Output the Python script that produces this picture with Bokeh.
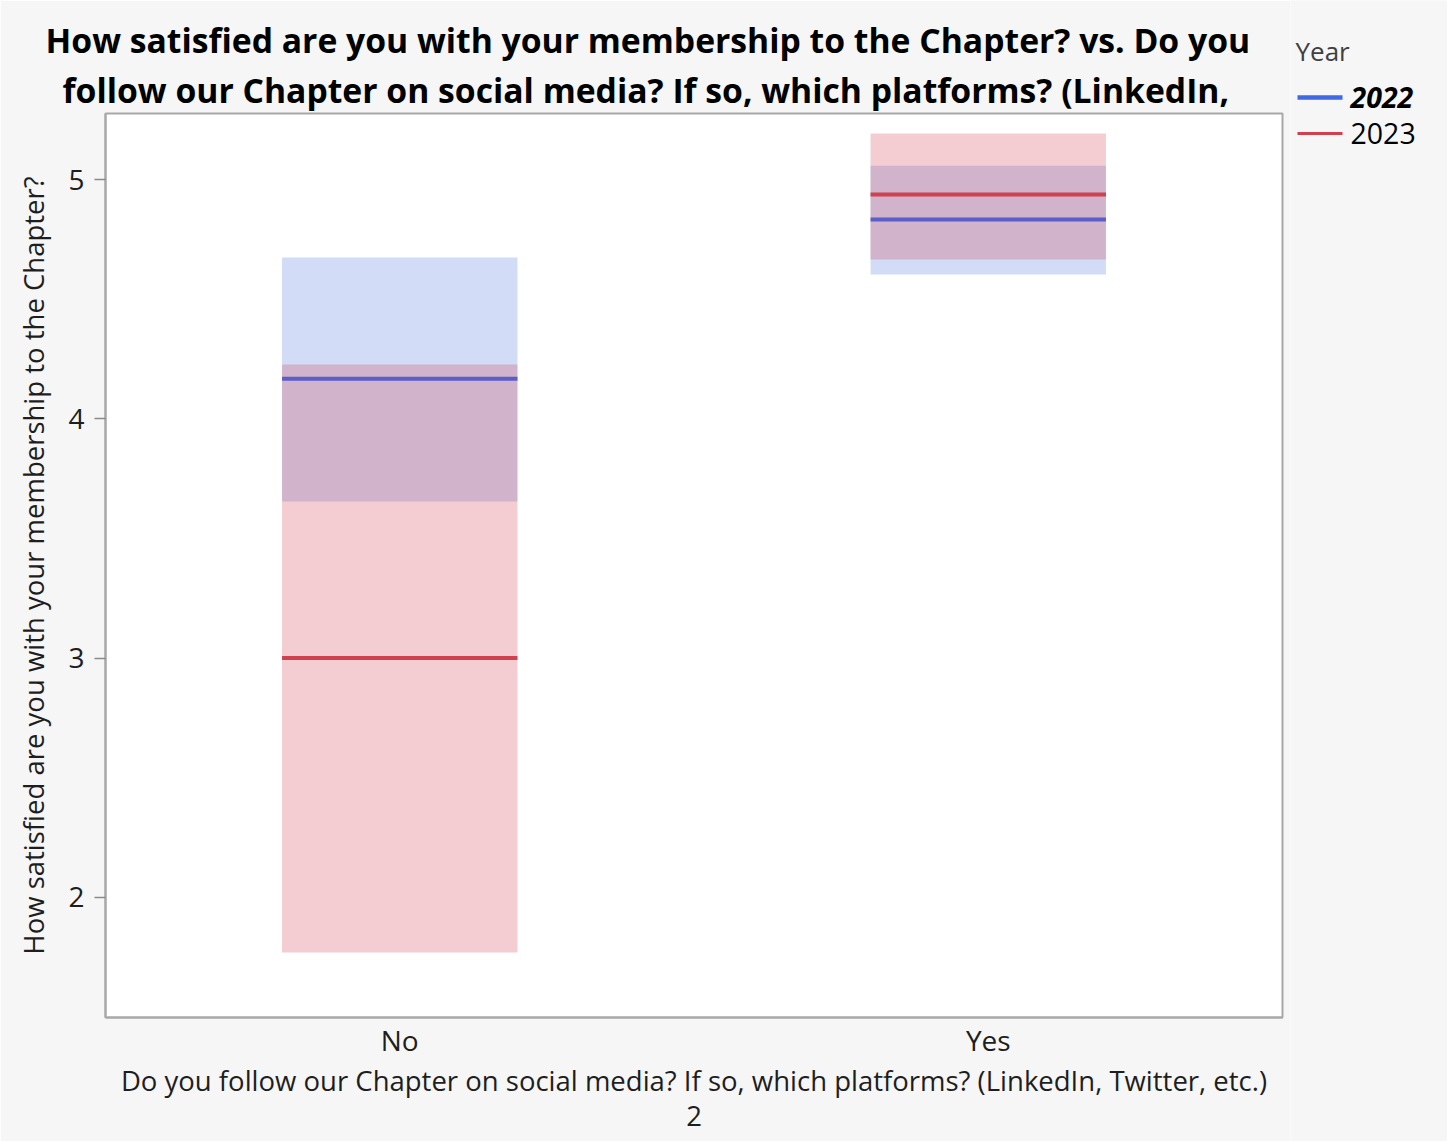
from bokeh.plotting import figure
from bokeh.layouts import row
from bokeh.models import FactorRange, Range1d, FixedTicker, Title, CategoricalAxis
from bokeh.core.properties import value
from bokeh.embed import file_html
from bokeh.resources import INLINE

# ---- data ----
categories = ["No", "Yes"]
years = ["2022", "2023"]
mean_2022 = [4.167, 4.833]
low_2022 = [3.654, 4.603]
high_2022 = [4.674, 5.058]
mean_2023 = [3.0, 4.937]
low_2023 = [1.770, 4.666]
high_2023 = [4.227, 5.192]
y_ticks = [2, 3, 4, 5]

title_lines = [
    "How satisfied are you with your membership to the Chapter? vs. Do you",
    "follow our Chapter on social media? If so, which platforms? (LinkedIn,",
]
y_label = "How satisfied are you with your membership to the Chapter?"
x_label = "Do you follow our Chapter on social media? If so, which platforms? (LinkedIn, Twitter, etc.)"
page_note = "2"
legend_title = "Year"

FONT = "Open Sans"
BG = "#f6f6f6"
BLUE_FILL = "#4a74e0"
RED_FILL = "#d0394a"
BLUE_LINE = "#5a5ec8"
RED_LINE = "#d0404f"
LEG_BLUE = "#4169e1"
LEG_RED = "#d0404f"
TXT = "#1e1e1e"

p = figure(
    width=1290, height=1141,
    x_range=FactorRange(*categories, range_padding=0),
    y_range=Range1d(1.498, 5.276),
    output_backend="svg", toolbar_location=None,
    min_border_left=105, min_border_top=113, min_border_right=8, min_border_bottom=124,
)
p.frame_align = False
p.background_fill_color = "white"
p.border_fill_color = BG
p.outline_line_color = "#a8a8a8"
p.outline_line_width = 2
p.grid.visible = False

# title lines (panels stack outward: add the lower line first)
offsets = [-60, -43]
for i in (1, 0):
    p.add_layout(Title(text=title_lines[i], align="left", offset=offsets[i], text_font=FONT,
                       text_font_size="33.7px", text_font_style="bold",
                       text_color="black", standoff=2), "above")

# bars (confidence bands)
p.vbar(x=categories, bottom=low_2022, top=high_2022, width=0.4,
       fill_color=BLUE_FILL, fill_alpha=0.25, line_color=None)
p.vbar(x=categories, bottom=low_2023, top=high_2023, width=0.4,
       fill_color=RED_FILL, fill_alpha=0.25, line_color=None)
# mean lines
p.rect(x=categories, y=mean_2022, width=0.4, height=4, height_units="screen",
       fill_color=BLUE_LINE, line_color=None)
p.rect(x=categories, y=mean_2023, width=0.4, height=4, height_units="screen",
       fill_color=RED_LINE, line_color=None)

# axes
p.yaxis.ticker = FixedTicker(ticks=y_ticks)
p.yaxis.minor_tick_line_color = None
p.yaxis.major_tick_in = 0
p.yaxis.major_tick_out = 11
p.yaxis.major_tick_line_color = "#8a8a8a"
p.yaxis.major_tick_line_width = 1.5
p.yaxis.axis_line_color = "#a8a8a8"
p.yaxis.axis_line_width = 2
p.yaxis.major_label_standoff = 10
p.yaxis.axis_label = y_label
p.yaxis.axis_label_standoff = 13
p.xaxis.major_tick_line_color = None
p.xaxis.major_tick_out = 0
p.xaxis.major_tick_in = 0
p.xaxis.axis_line_color = "#a8a8a8"
p.xaxis.axis_line_width = 2
p.xaxis.major_label_standoff = 3
p.xaxis.axis_label = x_label
p.xaxis.axis_label_standoff = 0
for ax in (p.xaxis[0], p.yaxis[0]):
    ax.major_label_text_font = FONT
    ax.major_label_text_font_size = "28px"
    ax.major_label_text_color = TXT
    ax.axis_label_text_font = FONT
    ax.axis_label_text_font_size = "27.5px"
    ax.axis_label_text_font_style = "normal"
    ax.axis_label_text_color = TXT

# page note as an extra, label-only axis below (no ticks)
note_axis = CategoricalAxis(ticker=FixedTicker(ticks=[]), axis_label=page_note,
                            axis_line_color=None, major_tick_line_color=None,
                            major_tick_out=0, major_tick_in=0, major_label_standoff=0,
                            axis_label_standoff=4, axis_label_text_font=FONT,
                            axis_label_text_font_size="27.5px",
                            axis_label_text_font_style="normal", axis_label_text_color=TXT)
p.add_layout(note_axis, "below")

# legend panel (separate figure, pixel coordinates, y downwards)
lg = figure(width=157, height=1141, x_range=Range1d(0, 157), y_range=Range1d(1141, 0),
            output_backend="svg", toolbar_location=None, min_border=0,
            min_border_left=0, min_border_right=0, min_border_top=0, min_border_bottom=0)
lg.frame_align = False
lg.axis.visible = False
lg.grid.visible = False
lg.outline_line_color = None
lg.background_fill_color = BG
lg.border_fill_color = BG
lg.text(x=[5], y=[50], text=[legend_title], text_font=value(FONT), text_font_size="26px",
        text_color="#404040", text_baseline="middle", text_align="left")
leg_rows = [(years[0], LEG_BLUE, 4.5, "bold italic", 97),
            (years[1], LEG_RED, 3, "normal", 133)]
for name, col, lw, style, yy in leg_rows:
    lg.line(x=[7, 52], y=[yy, yy], line_color=col, line_width=lw)
    lg.text(x=[60], y=[yy], text=[name], text_font=value(FONT), text_font_size="28.5px",
            text_font_style=style, text_color="black", text_baseline="middle",
            text_align="left")

layout = row(p, lg)
open("out.html", "w").write(file_html(layout, INLINE))
